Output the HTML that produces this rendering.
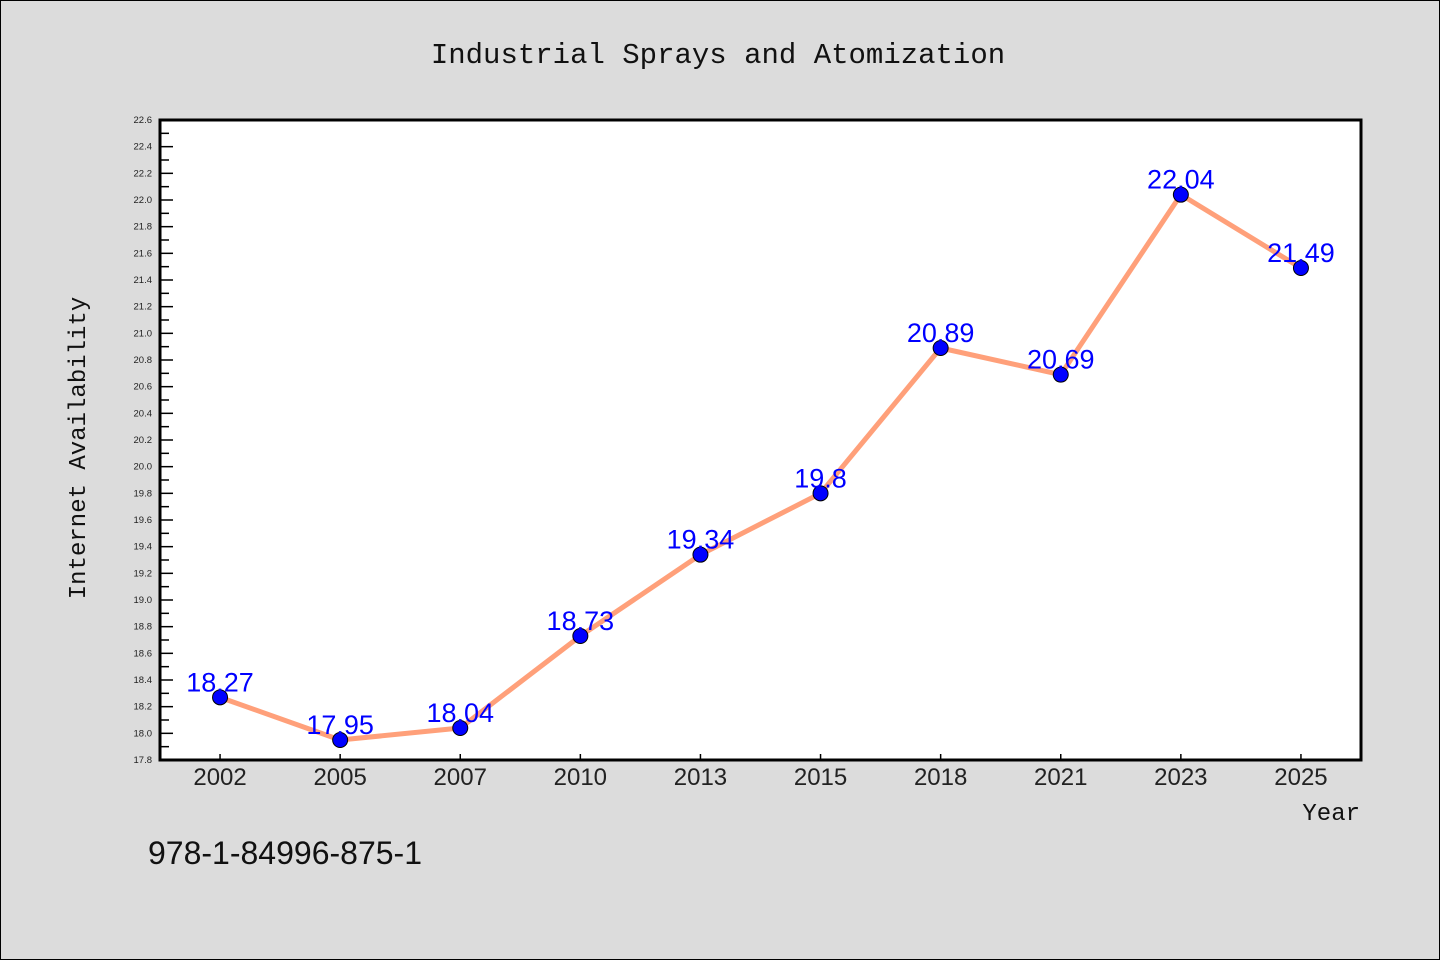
<!DOCTYPE html>
<html><head><meta charset="utf-8"><style>
body{margin:0;background:#dcdcdc;}
svg{display:block}
</style></head><body>
<svg width="1440" height="960" xmlns="http://www.w3.org/2000/svg">
<rect x="0.5" y="0.5" width="1439" height="959" fill="#dcdcdc" stroke="#000"/>
<text x="718" y="63" text-anchor="middle" font-family="'Liberation Mono','WenQuanYi Zen Hei',monospace" font-size="29" fill="#111">Industrial Sprays and Atomization</text>
<rect x="160" y="120" width="1201" height="640" fill="#fff"/>
<g id="yaxis"></g><g id="xaxis"></g>
<path id="frame" d="M160,120H1361V760H160Z" fill="none" stroke="#000" stroke-width="3"/>
<g id="series"></g>
<text transform="translate(85,448) rotate(-90)" text-anchor="middle" font-family="'Liberation Mono','WenQuanYi Zen Hei',monospace" font-size="24" fill="#111">Internet Availability</text>
<text x="1360" y="820" text-anchor="end" font-family="'Liberation Mono','WenQuanYi Zen Hei',monospace" font-size="24" fill="#111">Year</text>
<text x="148" y="864" font-family="'Liberation Sans','WenQuanYi Zen Hei',sans-serif" font-size="32" fill="#111">978-1-84996-875-1</text>
</svg>
<script>
const categories=["2002","2005","2007","2010","2013","2015","2018","2021","2023","2025"];
const values=[18.27,17.95,18.04,18.73,19.34,19.8,20.89,20.69,22.04,21.49];
const valueLabels=["18.27","17.95","18.04","18.73","19.34","19.8","20.89","20.69","22.04","21.49"];
const yMin=17.8,yMax=22.6;
const NS="http://www.w3.org/2000/svg";
function y(v){return 760-(v-yMin)/(yMax-yMin)*640;}
function x(i){return 160+1201/categories.length*(i+0.5);}
function mk(t,a,p){const e=document.createElementNS(NS,t);for(const k in a)e.setAttribute(k,a[k]);p.appendChild(e);return e;}
const ya=document.getElementById('yaxis');
for(let k=0;k<=48;k++){const v=yMin+k*0.1;const yy=y(v);const major=k%2===0;
 const l=mk('line',{x1:160,x2:major?173:169,y1:yy,y2:yy,stroke:'#000','stroke-width':1.5},ya);
 
 
 if(major){const t=mk('text',{x:152,y:yy+3,'text-anchor':'end','font-family':"'Liberation Sans',sans-serif",'font-size':9.5,fill:'#222'},ya);t.textContent=v.toFixed(1);
 
 }}
const xa=document.getElementById('xaxis');
categories.forEach((c,i)=>{const xx=x(i);
 const l=mk('line',{x1:xx,x2:xx,y1:754,y2:760,stroke:'#000','stroke-width':1.5},xa);
 
 
 const t=mk('text',{x:xx,y:785,'text-anchor':'middle','font-family':"'Liberation Sans',sans-serif",'font-size':24,fill:'#222'},xa);t.textContent=c;
 
 });
const s=document.getElementById('series');
const line=mk('polyline',{points:values.map((v,i)=>x(i)+','+y(v)).join(' '),fill:'none',stroke:'#ffa07a','stroke-width':5,'stroke-linejoin':'round'},s);


values.forEach((v,i)=>{
 const c=mk('circle',{cx:x(i),cy:y(v),r:7.5,fill:'#0000ff',stroke:'#000','stroke-width':1},s);
 
 
 const t=mk('text',{x:x(i),y:y(v)-6,'text-anchor':'middle','font-family':"'Liberation Sans',sans-serif",'font-size':27,fill:'#0000ff'},s);t.textContent=valueLabels[i];
 
 });
</script>
</body></html>
